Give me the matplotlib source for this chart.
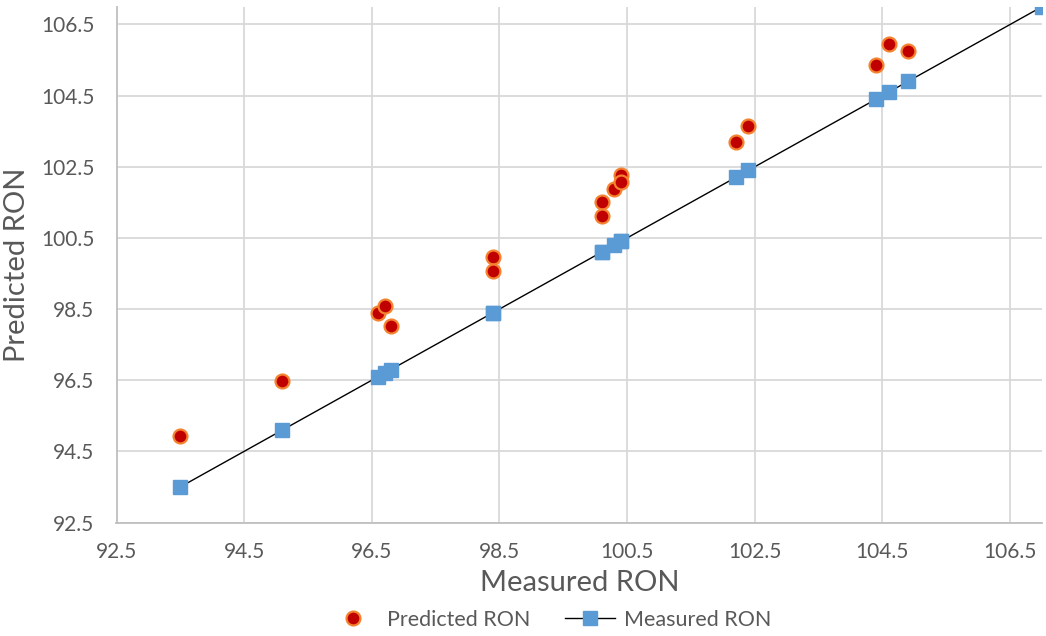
import matplotlib
matplotlib.use("Agg")
import matplotlib.pyplot as plt
from matplotlib.lines import Line2D

plt.rcParams['font.family'] = ['Lato', 'DejaVu Sans']

# Measured research octane numbers and model predictions for the same samples
measured = [93.5, 95.1, 96.6, 96.7, 96.8, 98.4, 98.4, 100.1, 100.1, 100.3,
            100.4, 100.4, 102.2, 102.4, 104.4, 104.6, 104.9, 107.0]
predicted = [94.93, 96.47, 98.40, 98.59, 98.02, 99.96, 99.56, 101.51, 101.12,
             101.87, 102.28, 102.07, 103.20, 103.64, 105.37, 105.95, 105.75]
ticks = [92.5, 94.5, 96.5, 98.5, 100.5, 102.5, 104.5, 106.5]
axis_min, axis_max = 92.5, 107.0

W, H = 1046, 636
fig = plt.figure(figsize=(W / 100, H / 100), dpi=100)
ax = fig.add_axes([116.5 / W, 1 - 522.5 / H, (1042 - 116.5) / W, (522.5 - 6.7) / H])

ax.plot(measured, measured, color='black', lw=1.0, marker='s', ms=10.5,
        mfc='#5B9BD5', mec='#5B9BD5', zorder=3, clip_on=True,
        label='Measured RON')
ax.plot(measured[:len(predicted)], predicted, ls='none', marker='o', ms=10,
        mfc='#C00000', mec='#F4822F', mew=1.6, zorder=4, label='Predicted RON')

ax.set_xlim(axis_min, axis_max)
ax.set_ylim(axis_min, axis_max)
ax.set_xticks(ticks)
ax.set_yticks(ticks)
ax.set_xticklabels([f"{t:.1f}" for t in ticks])
ax.set_yticklabels([f"{t:.1f}" for t in ticks])
ax.grid(True, color='#D9D9D9', lw=1.3)
ax.set_axisbelow(True)
for s in ['top', 'right']:
    ax.spines[s].set_visible(False)
for s in ['left', 'bottom']:
    ax.spines[s].set_color('#BFBFBF')
    ax.spines[s].set_linewidth(1.3)
ax.tick_params(length=0, labelsize=15, colors='#595959')
ax.tick_params(axis='x', pad=14)
ax.tick_params(axis='y', pad=16)

ax.set_xlabel('Measured RON', fontsize=21, color='#595959', labelpad=6)
ax.set_ylabel('Predicted RON', fontsize=21, color='#595959', labelpad=8)

handles = [
    Line2D([], [], ls='none', marker='o', ms=10, mfc='#C00000', mec='#F4822F', mew=1.6),
    Line2D([], [], color='black', lw=1.0, marker='s', ms=10.5, mfc='#5B9BD5', mec='#5B9BD5'),
]
fig.legend(handles, ['Predicted RON', 'Measured RON'], loc='center',
           bbox_to_anchor=(550 / W, 1 - 620 / H), ncol=2, frameon=False,
           fontsize=15.5, labelcolor='#595959', handlelength=2.3,
           handletextpad=0.45, columnspacing=1.6)

fig.savefig('out.png', dpi=100)
